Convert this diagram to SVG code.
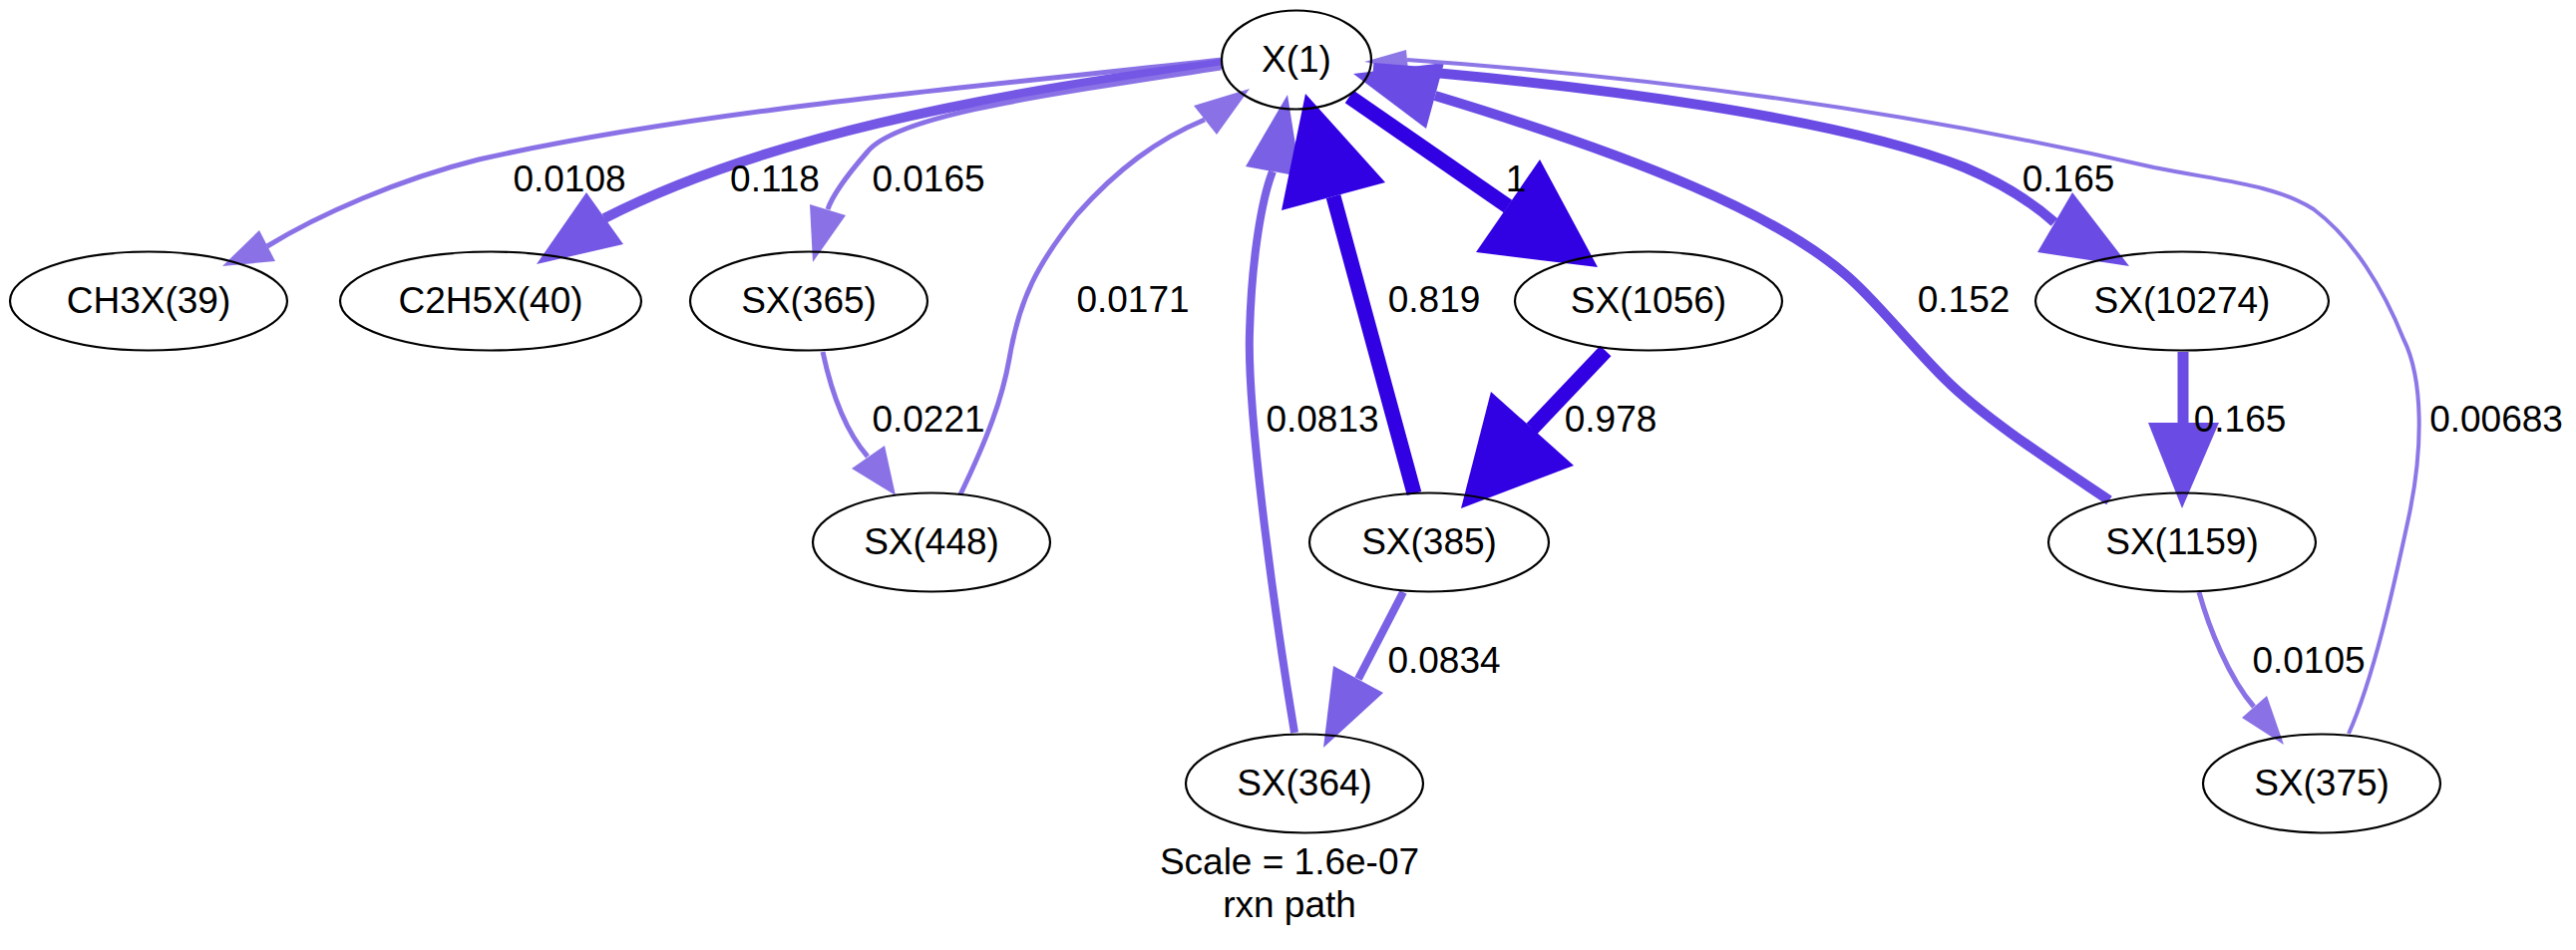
<svg xmlns="http://www.w3.org/2000/svg" width="2583" height="953" viewBox="0 0 2583 953">
<style>
.bg{fill:#ffffff}
.node ellipse{fill:none;stroke:#000000;stroke-width:2.2}
.node text,.lbl text,.title{font-family:"Liberation Sans",Arial,Helvetica,sans-serif;font-size:37px;fill:#000000;text-anchor:middle}
.e path{fill:none}
.c1 path{stroke:#3100e3}.c1 polygon{fill:#3100e3;stroke:none}
.c2 path{stroke:#6a4ce4}.c2 polygon{fill:#6a4ce4;stroke:none}
.c3 path{stroke:#7457e4}.c3 polygon{fill:#7457e4;stroke:none}
.c4 path{stroke:#7a60e5}.c4 polygon{fill:#7a60e5;stroke:none}
.c5 path{stroke:#8a72e6}.c5 polygon{fill:#8a72e6;stroke:none}
.c6 path{stroke:#8d77e7}.c6 polygon{fill:#8d77e7;stroke:none}
</style>
<rect class="bg" x="0" y="0" width="2583" height="953"/>
<g id="connectors">
  <g id="e-X1-CH3X39" class="e c5"><path d="M1225,60 C1000,85 700,110 480,160 C400,180 320,215 268,247" stroke-width="5"/><polygon points="223,267 260,231 276,262"/></g>
  <g id="e-X1-C2H5X40" class="e c3"><path d="M1225,64 C980,95 760,140 606,219" stroke-width="10"/><polygon points="538,265 588,193 625,245"/></g>
  <g id="e-X1-SX365" class="e c5"><path d="M1224,68 C1050,95 900,115 870,152 C850,175 835,195 830,210" stroke-width="5"/><polygon points="815,263 812,205 848,216"/></g>
  <g id="e-SX365-SX448" class="e c5"><path d="M825,353 C835,400 850,435 870,458" stroke-width="5"/><polygon points="898,497 854,470 887,447"/></g>
  <g id="e-SX448-X1" class="e c5"><path d="M963,496 C990,440 1005,400 1012,360 C1022,300 1040,265 1080,215 C1120,170 1160,140 1208,120" stroke-width="5"/><polygon points="1253,89 1197,106 1220,135"/></g>
  <g id="e-SX364-X1" class="e c4"><path d="M1298,735 C1282,640 1250,420 1253,333 C1255,260 1265,200 1276,172" stroke-width="8"/><polygon points="1291,95 1249,167 1304,177"/></g>
  <g id="e-SX385-X1" class="e c1"><path d="M1418,495 L1337,197" stroke-width="15"/><polygon points="1309,94 1285,211 1389,183"/></g>
  <g id="e-X1-SX1056" class="e c1"><path d="M1353,97 L1512,207" stroke-width="15"/><polygon points="1602,268 1480,253 1544,160"/></g>
  <g id="e-SX1056-SX385" class="e c1"><path d="M1610,352 L1536,430" stroke-width="15"/><polygon points="1465,510 1495,393 1578,467"/></g>
  <g id="e-SX1159-X1" class="e c2"><path d="M2115,502 C2060,465 1990,420 1950,380 C1910,340 1880,300 1850,275 C1780,215 1650,160 1439,96" stroke-width="10"/><polygon points="1357,74 1448,63 1430,129"/></g>
  <g id="e-SX375-X1" class="e c6"><path d="M2355,736 C2380,680 2400,590 2415,520 C2430,450 2430,380 2410,340 C2390,290 2360,240 2320,210 C2280,185 2230,182 2160,168 C1950,120 1700,80 1411,60" stroke-width="4"/><polygon points="1368,62 1410,50 1412,70"/></g>
  <g id="e-X1-SX10274" class="e c2"><path d="M1377,68 C1600,85 1850,120 1970,168 C2010,185 2040,205 2060,223" stroke-width="10"/><polygon points="2135,267 2043,253 2078,193"/></g>
  <g id="e-SX10274-SX1159" class="e c2"><path d="M2189,353 L2189,424" stroke-width="11"/><polygon points="2188,510 2154,424 2225,424"/></g>
  <g id="e-SX385-SX364" class="e c4"><path d="M1407,594 L1362,681" stroke-width="8"/><polygon points="1327,750 1337,668 1387,695"/></g>
  <g id="e-SX1159-SX375" class="e c5"><path d="M2205,594 C2215,630 2235,680 2260,709" stroke-width="5"/><polygon points="2290,747 2248,720 2273,698"/></g>
</g>
<g id="edge-labels" class="lbl">
  <text x="571" y="192">0.0108</text>
  <text x="777" y="192">0.118</text>
  <text x="931" y="192">0.0165</text>
  <text x="1520" y="192">1</text>
  <text x="2074" y="192">0.165</text>
  <text x="1136" y="313">0.0171</text>
  <text x="1438" y="313">0.819</text>
  <text x="1969" y="313">0.152</text>
  <text x="931" y="433">0.0221</text>
  <text x="1326" y="433">0.0813</text>
  <text x="1615" y="433">0.978</text>
  <text x="2246" y="433">0.165</text>
  <text x="2503" y="433">0.00683</text>
  <text x="1448" y="675">0.0834</text>
  <text x="2315" y="675">0.0105</text>
</g>
<g id="node-X1" class="node"><ellipse cx="1300" cy="60" rx="75" ry="49.5"/><text x="1300" y="72">X(1)</text></g>
<g id="node-CH3X39" class="node"><ellipse cx="149" cy="302" rx="139" ry="49.5"/><text x="149" y="314">CH3X(39)</text></g>
<g id="node-C2H5X40" class="node"><ellipse cx="492" cy="302" rx="151" ry="49.5"/><text x="492" y="314">C2H5X(40)</text></g>
<g id="node-SX365" class="node"><ellipse cx="811" cy="302" rx="119" ry="49.5"/><text x="811" y="314">SX(365)</text></g>
<g id="node-SX1056" class="node"><ellipse cx="1653" cy="302" rx="134" ry="49.5"/><text x="1653" y="314">SX(1056)</text></g>
<g id="node-SX10274" class="node"><ellipse cx="2188" cy="302" rx="147" ry="49.5"/><text x="2188" y="314">SX(10274)</text></g>
<g id="node-SX448" class="node"><ellipse cx="934" cy="544" rx="119" ry="49.5"/><text x="934" y="556">SX(448)</text></g>
<g id="node-SX385" class="node"><ellipse cx="1433" cy="544" rx="120" ry="49.5"/><text x="1433" y="556">SX(385)</text></g>
<g id="node-SX1159" class="node"><ellipse cx="2188" cy="544" rx="134" ry="49.5"/><text x="2188" y="556">SX(1159)</text></g>
<g id="node-SX364" class="node"><ellipse cx="1308" cy="786" rx="119" ry="49.5"/><text x="1308" y="798">SX(364)</text></g>
<g id="node-SX375" class="node"><ellipse cx="2328" cy="786" rx="119" ry="49.5"/><text x="2328" y="798">SX(375)</text></g>
<g id="graph-label">
  <text class="title" x="1293" y="877">Scale = 1.6e-07</text>
  <text class="title" x="1293" y="920">rxn path</text>
</g>
</svg>
